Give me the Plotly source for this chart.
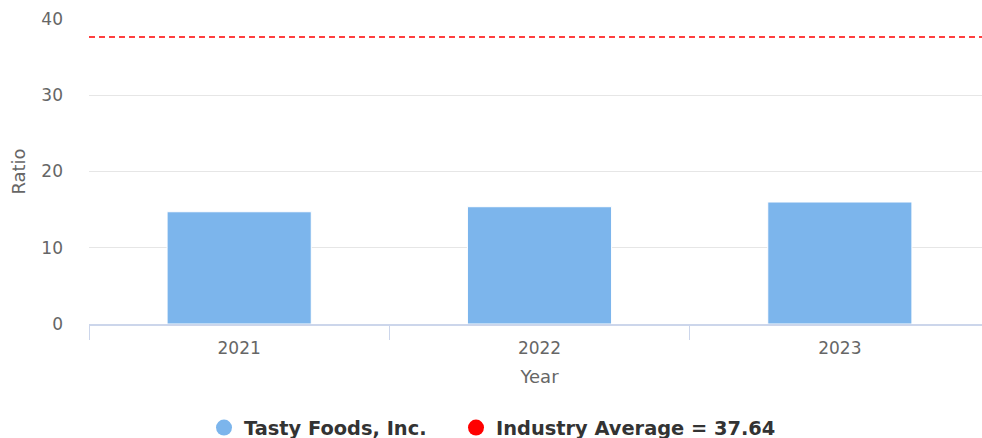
import plotly.graph_objects as go

years = ["2021", "2022", "2023"]
ratios = [14.72, 15.38, 16.0]
industry_average = 37.64
company_name = "Tasty Foods, Inc."
y_ticks = [0, 10, 20, 30, 40]

BAR_COLOR = "#7cb5ec"
AVG_COLOR = "#ff0000"
FONT = "DejaVu Sans"
W, H = 990, 438

fig = go.Figure()
fig.add_trace(go.Bar(
    x=years, y=ratios, width=0.48,
    marker=dict(color=BAR_COLOR, line=dict(color="white", width=1)),
    showlegend=False, hoverinfo="x+y",
))
# legend entries
fig.add_trace(go.Scatter(
    x=[None], y=[None], mode="markers", name=company_name, legend="legend",
    marker=dict(color=BAR_COLOR, size=16, symbol="circle"),
))
fig.add_trace(go.Scatter(
    x=[None], y=[None], mode="markers", name=f"Industry Average = {industry_average}",
    legend="legend2",
    marker=dict(color=AVG_COLOR, size=16, symbol="circle"),
))

fig.add_shape(type="line", xref="paper", x0=0, x1=1, yref="y",
              y0=industry_average, y1=industry_average,
              line=dict(color=AVG_COLOR, width=1.5, dash="6px,4px"))

legend_common = dict(
    orientation="h", xref="container", yref="container",
    xanchor="left", yanchor="middle", y=(H - 428) / H,
    font=dict(family=FONT, size=19.4, color="#333333", weight="bold"),
    itemsizing="trace", itemwidth=30, tracegroupgap=0,
    bgcolor="rgba(0,0,0,0)",
)

fig.update_layout(
    width=W, height=H,
    margin=dict(l=89, r=0, t=19, b=114),
    paper_bgcolor="white", plot_bgcolor="white",
    font=dict(family=FONT, color="#666666", size=17),
    showlegend=True,
    legend=dict(x=(223 - 19) / W, **legend_common),
    legend2=dict(x=(475 - 19) / W, **legend_common),
    xaxis=dict(
        type="category", tickson="boundaries", ticks="outside", ticklen=14,
        tickcolor="#ccd6eb", tickwidth=1,
        showline=True, linecolor="#ccd6eb", linewidth=2,
        showgrid=False, tickfont=dict(size=17, color="#666666"),
        ticklabelstandoff=8,
        title=dict(text="Year", font=dict(size=18, color="#666666"), standoff=13),
        automargin=False, fixedrange=True,
    ),
    yaxis=dict(
        range=[0, 40], tickvals=y_ticks, showgrid=True, gridcolor="#e6e6e6",
        gridwidth=1, zeroline=False, showline=False, ticks="",
        ticklabelstandoff=25,
        tickfont=dict(size=17, color="#666666"),
        title=dict(text="Ratio", font=dict(size=18, color="#666666"), standoff=11),
        automargin=False, fixedrange=True,
    ),
)

fig.write_html(
    "out.html",
    config={"displayModeBar": False},
    post_script="document.body.style.margin='0';document.body.style.overflow='hidden';",
)
